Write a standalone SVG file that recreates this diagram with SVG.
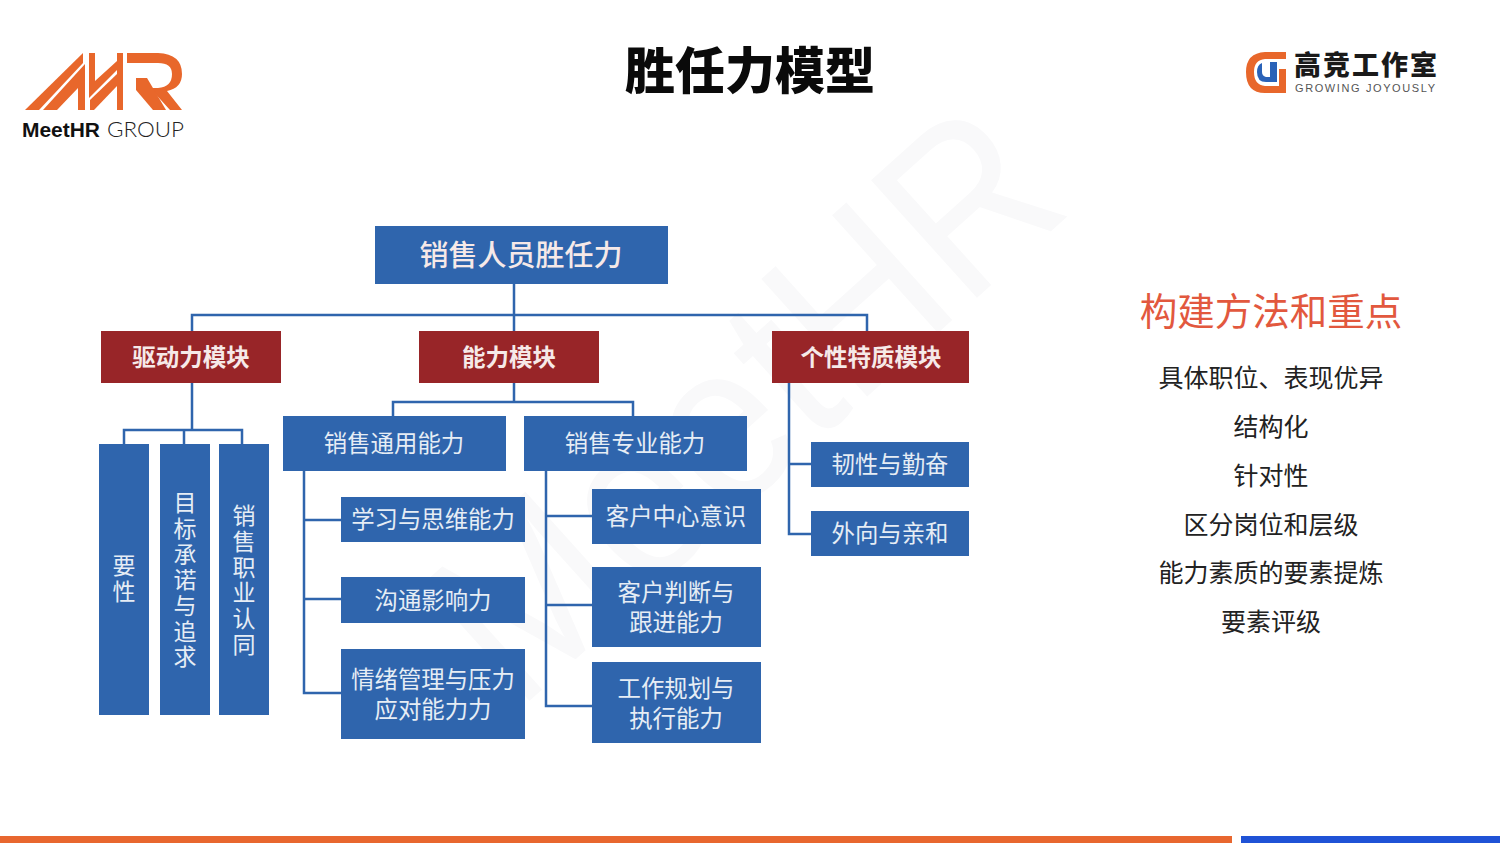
<svg xmlns="http://www.w3.org/2000/svg" width="1500" height="843" viewBox="0 0 1500 843">
<style>
text{font-family:"Noto Sans CJK SC","Liberation Sans",sans-serif}
.b{fill:#2f65ad}.r{fill:#982528}
.t{fill:#e6edf5;text-anchor:middle;font-size:23.4px}
.v{fill:#e6edf5;font-size:23px;writing-mode:vertical-rl}
.w{fill:#f6e9e8;text-anchor:middle;font-weight:700;font-size:23.5px}
.c{fill:none;stroke:#2f65ad;stroke-width:2.5}
.s{fill:#222;text-anchor:middle;font-size:25px}
.o{fill:#e8672b}
</style>
<rect width="1500" height="843" fill="#fff"/>
<text id="watermark" transform="translate(517 712) rotate(-42)" font-size="230" fill="#f9f9fa" style="font-family:'Liberation Sans',sans-serif" textLength="750" lengthAdjust="spacingAndGlyphs">MeetHR</text>
<g id="logo-left">
<polygon class="o" points="25,110 39,110 83,63 83,53"/>
<polygon class="o" points="43,110 57,110 78,88 78,110 85,110 85,64"/>
<polygon class="o" points="89,53 95,53 95,81 117,61 117,70 89,98"/>
<polygon class="o" points="90,100 117,74 117,86 94,110 90,110"/>
<rect class="o" x="117" y="53" width="6" height="57"/>
<path class="o" d="M127,53H158Q182,54 182,74Q182,88 167,91L182,110H170L150,88H158Q172,87 172,74Q172,63 158,63H127Z"/>
<polygon class="o" points="136,78 147,78 166,110 153,110 136,90"/>
<text x="22" y="137" font-size="21" font-weight="700" fill="#111" style="font-family:'Liberation Sans',sans-serif" textLength="78" lengthAdjust="spacingAndGlyphs">MeetHR</text>
<text x="107" y="137" font-size="21" font-weight="300" fill="#222" style="font-family:Lato,'Liberation Sans',sans-serif" textLength="77" lengthAdjust="spacingAndGlyphs">GROUP</text>
</g>
<text id="title" x="750" y="89" text-anchor="middle" font-size="50" font-weight="900" fill="#0a0a0a">胜任力模型</text>
<g id="logo-right">
<path class="o" d="M1286,52H1265Q1246,53 1246,72Q1246,93 1265,93H1286V69H1279V86H1265Q1254,85 1254,72Q1254,60 1265,59H1286Z"/>
<path d="M1262,63Q1257,65 1257,72Q1257,82 1266,82H1277V62H1270V77H1266Q1262,76 1262,72Z" fill="#2a62b8"/>
<text x="1294" y="75" font-size="27" font-weight="900" fill="#1a1a1a" textLength="143" lengthAdjust="spacing">高竞工作室</text>
<text x="1295" y="92" font-size="11" fill="#555" style="font-family:'Liberation Sans',sans-serif" textLength="140" lengthAdjust="spacing">GROWING JOYOUSLY</text>
</g>
<g id="connectors">
<path class="c" d="M514,283V331M192,331V315H867V331"/>
<path class="c" d="M192,383V431M124,444V430H242V444M184,430V444"/>
<path class="c" d="M514,383V402M393,416V402H633V416"/>
<path class="c" d="M304,471V693H341M304,520H341M304,599H341"/>
<path class="c" d="M546,471V706H592M546,516H592M546,605H592"/>
<path class="c" d="M789,383V534H811M789,464H811"/>
</g>
<g id="root"><rect class="b" x="375" y="226" width="293" height="58"/><text class="w" x="521" y="266" style="font-size:29px;font-weight:500">销售人员胜任力</text></g>
<g id="m1"><rect class="r" x="101" y="331" width="180" height="52"/><text class="w" x="191" y="366">驱动力模块</text></g>
<g id="m2"><rect class="r" x="419" y="331" width="180" height="52"/><text class="w" x="509" y="366">能力模块</text></g>
<g id="m3"><rect class="r" x="772" y="331" width="197" height="52"/><text class="w" x="871" y="366">个性特质模块</text></g>
<g id="v1"><rect class="b" x="99" y="444" width="50" height="271"/><text class="v" x="124" y="554" style="letter-spacing:3px">要性</text></g>
<g id="v2"><rect class="b" x="160" y="444" width="50" height="271"/><text class="v" x="185" y="491" style="letter-spacing:2.7px">目标承诺与追求</text></g>
<g id="v3"><rect class="b" x="219" y="444" width="50" height="271"/><text class="v" x="244" y="504" style="letter-spacing:2.7px">销售职业认同</text></g>
<g id="g1"><rect class="b" x="283" y="416" width="223" height="55"/><text class="t" x="394" y="452">销售通用能力</text></g>
<g id="g2"><rect class="b" x="524" y="416" width="223" height="55"/><text class="t" x="635" y="452">销售专业能力</text></g>
<g id="n1"><rect class="b" x="341" y="497" width="184" height="45"/><text class="t" x="433" y="528">学习与思维能力</text></g>
<g id="n2"><rect class="b" x="341" y="577" width="184" height="46"/><text class="t" x="433" y="609">沟通影响力</text></g>
<g id="n3"><rect class="b" x="341" y="649" width="184" height="90"/><text class="t"><tspan x="433" y="688">情绪管理与压力</tspan><tspan x="433" y="718">应对能力力</tspan></text></g>
<g id="n4"><rect class="b" x="592" y="489" width="169" height="55"/><text class="t" x="676" y="525">客户中心意识</text></g>
<g id="n5"><rect class="b" x="592" y="567" width="169" height="80"/><text class="t"><tspan x="676" y="601">客户判断与</tspan><tspan x="676" y="631">跟进能力</tspan></text></g>
<g id="n6"><rect class="b" x="592" y="662" width="169" height="81"/><text class="t"><tspan x="676" y="697">工作规划与</tspan><tspan x="676" y="727">执行能力</tspan></text></g>
<g id="n7"><rect class="b" x="811" y="442" width="158" height="45"/><text class="t" x="890" y="473">韧性与勤奋</text></g>
<g id="n8"><rect class="b" x="811" y="511" width="158" height="45"/><text class="t" x="890" y="542">外向与亲和</text></g>
<g id="side">
<text x="1271" y="325" text-anchor="middle" font-size="37.5" fill="#e2583e">构建方法和重点</text>
<text class="s" x="1271" y="387">具体职位、表现优异</text>
<text class="s" x="1271" y="436">结构化</text>
<text class="s" x="1271" y="485">针对性</text>
<text class="s" x="1271" y="534">区分岗位和层级</text>
<text class="s" x="1271" y="582">能力素质的要素提炼</text>
<text class="s" x="1271" y="631">要素评级</text>
</g>
<rect id="bar1" x="0" y="836" width="1232" height="7" fill="#e8672f"/>
<rect id="bar2" x="1241" y="836" width="259" height="7" fill="#1f52d6"/>
</svg>
